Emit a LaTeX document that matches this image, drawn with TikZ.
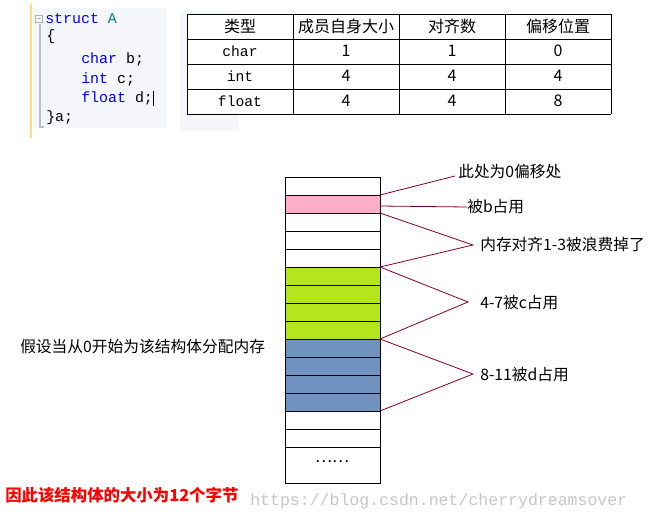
\documentclass[tikz,border=0pt]{standalone}
\usepackage{fontspec}
\setmainfont{Noto Sans CJK SC}
\setmonofont{Liberation Mono}
\definecolor{panel}{RGB}{245,246,250}
\definecolor{gutter}{RGB}{250,220,130}
\definecolor{leadc}{RGB}{128,0,32}
\definecolor{pinkc}{RGB}{255,174,201}
\definecolor{greenc}{RGB}{181,230,29}
\definecolor{bluec}{RGB}{112,146,190}
\begin{document}
\begin{tikzpicture}[x=0.75pt,y=-0.75pt,
  cell/.style={draw=black,line width=0.6pt},
  lead/.style={draw=leadc,line width=0.6pt},
  lbl/.style={anchor=west,inner sep=0pt,font=\fontsize{11.8}{13}\selectfont},
  tt/.style={anchor=west,inner sep=0pt,font=\ttfamily\fontsize{11.2}{13}\selectfont},
  tc/.style={inner sep=0pt,font=\fontsize{12}{13}\selectfont}]
\useasboundingbox (0,0) rectangle (651,522);
\fill[white] (0,0) rectangle (651,522);
% code panel
\fill[panel] (33,8) rectangle (167,128);
\fill[panel] (180,11) rectangle (239,131);
\draw[gutter,line width=0.8pt] (31,4) -- (31,138);
\draw[gray!60] (35,15) rectangle (42,22);
\draw[gray!60] (36.5,18.5) -- (40.5,18.5);
\draw[gray!50,line width=0.8pt] (40,24) -- (40,127) -- (44,127);
\node[tt,text=blue] (s) at (45,19) {struct \textcolor{teal}{A}};
\node[tt] (o) at (46,37) {\{};
\node[tt] (c1) at (81,59) {\textcolor{blue}{char} b;};
\node[tt] (c2) at (81,79) {\textcolor{blue}{int} c;};
\node[tt] (c3) at (81,98) {\textcolor{blue}{float} d;};
\draw (153,91) -- (153,106);
\node[tt] (e) at (46,118) {\}a;};
% table
\fill[white] (187,14) rectangle (611,114);
\foreach \y in {14,39,64,89,114} \draw[cell] (187,\y) -- (611,\y);
\foreach \x in {187,293,399,505,611} \draw[cell] (\x,14) -- (\x,114);
\node[tc] (h1) at (240,26) {类型};
\node[tc] (h2) at (346,26) {成员自身大小};
\node[tc] (h3) at (452,26) {对齐数};
\node[tc] (h4) at (558,26) {偏移位置};
\foreach \r/\t/\a/\b/\c in {1/char/1/1/0,2/int/4/4/4,3/float/4/4/8}{
  \node[tc,font=\ttfamily\fontsize{11}{13}\selectfont] at (240,26+25*\r) {\t};
  \node[tc] at (346,26+25*\r) {\a};
  \node[tc] at (452,26+25*\r) {\b};
  \node[tc] at (558,26+25*\r) {\c};
}
% memory stack
\fill[pinkc] (285,195) rectangle (380,213);
\fill[greenc] (285,267) rectangle (380,339);
\fill[bluec] (285,339) rectangle (380,411);
\foreach \i in {0,...,14} \draw[cell] (285,177+18*\i) rectangle (380,195+18*\i);
\draw[cell] (285,447) rectangle (380,483);
\node[tc] (dots) at (332,462) {……};
\coordinate (p1) at (380,195);
\coordinate (p2) at (380,213);
\coordinate (p3) at (380,267);
\coordinate (p4) at (380,339);
\coordinate (p5) at (380,411);
\node[lbl] (t0) at (458,172) {此处为0偏移处};
\node[lbl] (t1) at (467,207) {被b占用};
\node[lbl] (t2) at (480,245) {内存对齐1-3被浪费掉了};
\node[lbl] (t3) at (480,303) {4-7被c占用};
\node[lbl] (t4) at (480,375) {8-11被d占用};
\draw[lead] (p1) -- (455,176);
\draw[lead] (380,206) -- (t1.west);
\draw[lead] (p2) -- (473,245) -- (p3);
\draw[lead] (p3) -- (468,302) -- (p4);
\draw[lead] (p4) -- (473,374) -- (p5);
\node[lbl] (left) at (20,347) {假设当从0开始为该结构体分配内存};
\node[lbl,text=red,font=\bfseries\fontsize{12.3}{13}\selectfont] (concl) at (5,495) {因此该结构体的大小为12个字节};
\node[lbl,text=gray!45,font=\ttfamily\fontsize{12.4}{13}\selectfont] (wm) at (250,501) {https://blog.csdn.net/cherrydreamsover};
\end{tikzpicture}
\end{document}
